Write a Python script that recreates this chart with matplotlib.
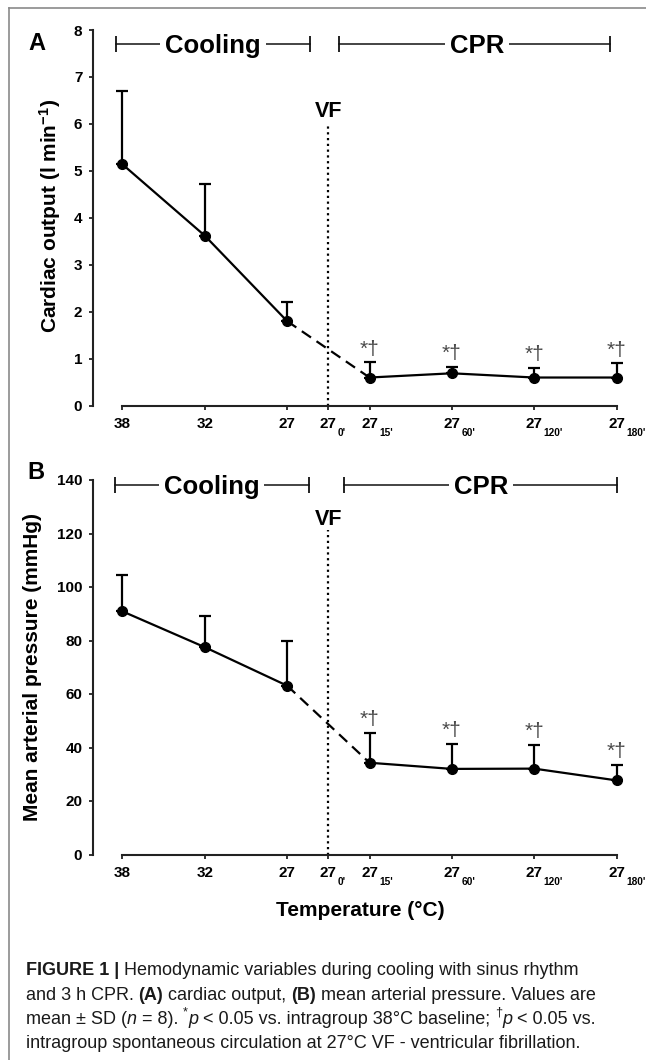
import numpy as np
import matplotlib
matplotlib.use("Agg")
import matplotlib.pyplot as plt
from matplotlib.lines import Line2D
from matplotlib import font_manager

# ---------------- data ----------------
x_labels = ["38", "32", "27", "27", "27", "27", "27", "27"]
x_subs = ["", "", "", "0'", "15'", "60'", "120'", "180'"]
tick_pos = [0, 1, 2, 2.5, 3, 4, 5, 6]
point_pos = [0, 1, 2, 3, 4, 5, 6]

co_mean = [5.14, 3.62, 1.80, 0.60, 0.69, 0.60, 0.60]
co_sd = [1.56, 1.11, 0.40, 0.32, 0.14, 0.21, 0.30]

map_mean = [90.9, 77.5, 63.1, 34.3, 32.0, 32.1, 27.7]
map_sd = [13.7, 11.7, 16.7, 11.1, 9.3, 8.9, 5.9]

sig_idx = [3, 4, 5, 6]
sig_label = "*\u2020"

# ---------------- fonts ----------------
names = {f.name for f in font_manager.fontManager.ttflist}
NARROW = "Liberation Sans Narrow" in names
COND = ["Liberation Sans Narrow", "Liberation Sans", "DejaVu Sans"] if NARROW else ["Liberation Sans", "DejaVu Sans"]
SANS = ["Liberation Sans", "DejaVu Sans"]
plt.rcParams["font.family"] = COND
plt.rcParams["mathtext.fontset"] = "custom"
plt.rcParams["mathtext.rm"] = "Liberation Sans"
plt.rcParams["mathtext.bf"] = "Liberation Sans:bold"
plt.rcParams["mathtext.it"] = "Liberation Sans:italic"

W, H = 646, 1060
fig = plt.figure(figsize=(W / 100, H / 100), dpi=100)
fig.patch.set_facecolor("white")


def fx(px):
    return px / W


def fy(py):
    return 1 - py / H


AX_L, AX_R = 92.7, 641.3
XLIM = (-0.361, 6.3)


def make_ax(top_px, bottom_px, ymax, ystep):
    ax = fig.add_axes([fx(AX_L), fy(bottom_px), (AX_R - AX_L) / W, (bottom_px - top_px) / H])
    ax.set_xlim(*XLIM)
    ax.set_ylim(0, ymax)
    ax.patch.set_alpha(0)
    for s in ["top", "right"]:
        ax.spines[s].set_visible(False)
    for s in ["left", "bottom"]:
        ax.spines[s].set_linewidth(1.5)
        ax.spines[s].set_color("#222222")
    ax.spines["bottom"].set_bounds(0, 6)
    ax.set_yticks(np.arange(0, ymax + ystep / 2, ystep))
    ax.set_xticks(tick_pos)
    ax.set_xticklabels(x_labels)
    ax.tick_params(direction="out", length=3, width=1.3, color="#222222")
    ax.tick_params(axis="y", labelsize=11, pad=4.5)
    ax.tick_params(axis="x", labelsize=11, pad=5.0)
    for lab in ax.get_xticklabels() + ax.get_yticklabels():
        lab.set_fontweight("bold")
    for p, sub in zip(tick_pos, x_subs):
        if sub:
            ax.annotate(sub, xy=(p, 0), xycoords=("data", "axes fraction"),
                        xytext=(6.9, -22.0), textcoords="offset points",
                        ha="left", va="baseline", fontsize=7.3, fontweight="bold",
                        annotation_clip=False)
    return ax


def plot_series(ax, mean, sd):
    x = np.array(point_pos, dtype=float)
    m = np.array(mean)
    s = np.array(sd)
    ax.errorbar(x, m, yerr=[np.zeros_like(s), s], fmt="none", ecolor="black",
                elinewidth=1.6, capsize=4.5, capthick=1.6, zorder=3)
    ax.plot(x[:3], m[:3], "-", color="black", lw=1.6, zorder=3)
    ax.plot(x[2:4], m[2:4], color="black", lw=1.6, ls=(0, (5, 3)), zorder=3)
    ax.plot(x[3:], m[3:], "-", color="black", lw=1.6, zorder=3)
    ax.plot(x, m, "o", color="black", ms=7, zorder=5)
    for i in sig_idx:
        ax.annotate(sig_label, xy=(x[i], m[i] + s[i]), xytext=(0, 9.5),
                    textcoords="offset points", ha="center", va="center",
                    fontsize=15, color="#4a4a4a", family=SANS)


def bracket(ax, x0, x1, y, label, xc):
    ax.plot([x0, x1], [y, y], color="#111111", lw=1.1, marker="|", ms=11.5, mew=1.3,
            clip_on=False, zorder=2)
    ax.annotate(label, xy=(xc, y), xytext=(0, -6.5), textcoords="offset points",
                ha="center", va="baseline", fontsize=18.5, fontweight="bold",
                bbox=dict(facecolor="white", edgecolor="none", pad=3.5), zorder=4,
                annotation_clip=False)


def vf(ax, y_text, y_top):
    ax.plot([2.5, 2.5], [0, y_top], color="black", lw=1.6, ls=(0, (1, 1.6)), zorder=2)
    ax.text(2.5, y_text, "VF", ha="center", va="baseline", fontsize=15.5, fontweight="bold")


# ---------------- panel A ----------------
axA = make_ax(30.0, 405.7, 8, 1)
plot_series(axA, co_mean, co_sd)
bracket(axA, -0.078, 2.28, 7.7, "Cooling", 1.10)
bracket(axA, 2.627, 5.914, 7.7, "CPR", 4.306)
vf(axA, 6.15, 6.01)

# ---------------- panel B ----------------
axB = make_ax(480.0, 854.5, 140, 20)
plot_series(axB, map_mean, map_sd)
bracket(axB, -0.096, 2.266, 138.1, "Cooling", 1.083)
bracket(axB, 2.691, 6.003, 138.1, "CPR", 4.354)
vf(axB, 123.0, 121.3)

# ---------------- labels ----------------
fig.text(fx(28), fy(50), "A", fontsize=17, fontweight="bold", family=SANS, ha="left", va="baseline")
fig.text(fx(27), fy(479), "B", fontsize=17, fontweight="bold", family=SANS, ha="left", va="baseline")
fig.text(fx(50), fy(216), r"Cardiac output (l min$^{\mathbf{-1}}$)", rotation=90,
         ha="center", va="center", fontsize=15, fontweight="bold", family=SANS)
fig.text(fx(33), fy(667), "Mean arterial pressure (mmHg)", rotation=90,
         ha="center", va="center", fontsize=15, fontweight="bold", family=SANS)
fig.text(fx(360), fy(910), "Temperature (\u00b0C)", ha="center", va="center",
         fontsize=15, fontweight="bold")

# frame
fig.add_artist(Line2D([fx(9.3), fx(9.3)], [fy(8.3), 0], transform=fig.transFigure,
                      color="#8a8a8a", lw=1.2))
fig.add_artist(Line2D([fx(9.3), 1], [fy(8.3), fy(8.3)], transform=fig.transFigure,
                      color="#8a8a8a", lw=1.2))

# ---------------- caption ----------------
renderer = fig.canvas.get_renderer()


def style_kw(style, fs):
    kw = dict(fontsize=fs, family=COND, color="#1a1a1a")
    if style == "b":
        kw["fontweight"] = "bold"
    if style == "i":
        kw["fontstyle"] = "italic"
    if style == "sup":
        kw["fontsize"] = fs * 0.7
    return kw


def width_of(s, kw):
    t1 = fig.text(0, 0, "|" + s + "|", **kw)
    t2 = fig.text(0, 0, "||", **kw)
    w = t1.get_window_extent(renderer).width - t2.get_window_extent(renderer).width
    t1.remove()
    t2.remove()
    return w


def draw_runs(x_px, base_px, runs, fs):
    x = x_px
    for s, style in runs:
        kw = style_kw(style, fs)
        dy = fs * 0.45 * 100 / 72 if style == "sup" else 0
        fig.text(fx(x), fy(base_px - dy), s, ha="left", va="baseline", **kw)
        x += width_of(s, kw)
    return x


cap_lines = [
    [("FIGURE 1 | ", "b"), ("Hemodynamic variables during cooling with sinus rhythm", "n")],
    [("and 3 h CPR. ", "n"), ("(A)", "b"), (" cardiac output, ", "n"), ("(B)", "b"),
     (" mean arterial pressure. Values are", "n")],
    [("mean \u00b1 SD (", "n"), ("n", "i"), (" = 8). ", "n"), ("*", "sup"), ("p", "i"),
     (" < 0.05 vs. intragroup 38\u00b0C baseline; ", "n"), ("\u2020", "sup"), ("p", "i"),
     (" < 0.05 vs.", "n")],
    [("intragroup spontaneous circulation at 27\u00b0C VF - ventricular fibrillation.", "n")],
]

w10 = width_of(cap_lines[3][0][0], style_kw("n", 10))
cap_fs = 10 * 555.0 / w10
baselines = [975, 999.5, 1023.5, 1048]
for runs, b in zip(cap_lines, baselines):
    draw_runs(25.5, b, runs, cap_fs)

fig.savefig("out.png", dpi=100)
